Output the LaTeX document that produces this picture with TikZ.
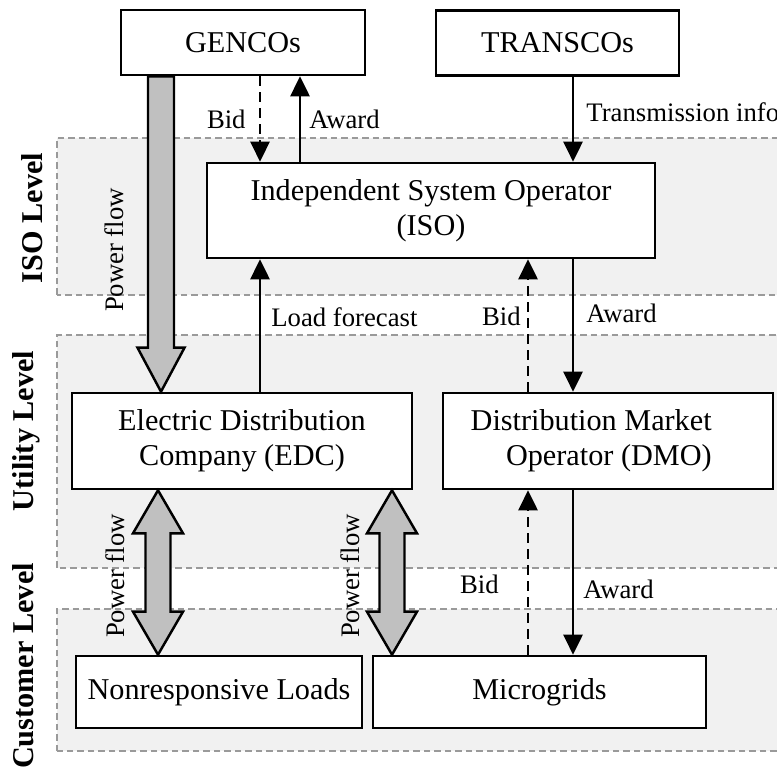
\documentclass[tikz,border=0pt]{standalone}
\usepackage{fontspec}
\setmainfont{Liberation Serif}
\usepackage{tikz}
\usetikzlibrary{arrows.meta,calc,positioning}
\definecolor{mktink}{HTML}{000000}
\definecolor{mktzone}{HTML}{F1F1F1}
\definecolor{mktedge}{HTML}{9A9A9A}
\definecolor{mktflow}{HTML}{C0C0C0}

\begin{document}
\begin{tikzpicture}[>={Triangle[length=0.4cm,width=0.38cm]},line join=miter,
  text=mktink,
  entity/.style={draw=mktink,line width=1.5pt,fill=white,align=center,inner sep=0pt,
    font=\fontsize{17.2}{20}\selectfont},
  zone/.style={fill=mktzone,draw=mktedge,line width=0.6pt,dash pattern=on 0.13cm off 0.08cm},
  msg/.style={->,draw=mktink,line width=1.6pt},
  bidmsg/.style={msg,dash pattern=on 0.2cm off 0.12cm},
  lbl/.style={font=\fontsize{15.2}{17}\selectfont,inner sep=0pt},
  flow/.style={draw=mktink,line width=1.4pt,fill=mktflow},
  level/.style={rotate=90,anchor=base,inner sep=0pt,font=\bfseries\fontsize{17.2}{20}\selectfont}]
\path[use as bounding box] (0,0) rectangle (15.54,15.42);
\fill[white] (0,0) rectangle (15.54,15.42);
\begin{scope}
\clip (0,0) rectangle (15.54,15.42);
% the three levels
\path[zone] (1.14,9.52) rectangle (16,12.66);
\path[zone] (1.14,4.06) rectangle (16,8.72);
\path[zone] (1.14,0.40) rectangle (16,3.24);
\node[level] (isolvl) at (0.84,11.06) {ISO Level};
\node[level] (utillvl) at (0.66,6.80) {Utility Level};
\node[level] (custlvl) at (0.66,2.10) {Customer Level};
% market participants
\node[entity,minimum width=4.88cm,minimum height=1.30cm] (gencos) at (4.86,14.57) {GENCOs};
\node[entity,minimum width=4.86cm,minimum height=1.30cm] (transcos) at (11.15,14.56) {TRANSCOs};
\node[entity,minimum width=8.96cm,minimum height=1.90cm] (iso) at (8.62,11.21) {Independent System Operator\\(ISO)};
\node[entity,minimum width=6.80cm,minimum height=1.92cm] (edc) at (4.84,6.60) {Electric Distribution\\Company (EDC)};
\node[entity,minimum width=6.60cm,minimum height=1.92cm] (dmo) at (12.16,6.60) {};
\node[align=right,anchor=east,inner sep=0pt,font=\fontsize{17.2}{20}\selectfont] (dmotext) at (14.24,6.60) {Distribution Market\\Operator (DMO)};
\node[entity,minimum width=5.72cm,minimum height=1.44cm] (loads) at (4.38,1.58) {Nonresponsive Loads};
\node[entity,minimum width=6.66cm,minimum height=1.44cm] (mgrids) at (10.79,1.58) {Microgrids};
% columns of the connectors
\coordinate (colbid) at (5.20,0);
\coordinate (colaward) at (6.00,0);
\coordinate (coldbid) at (10.56,0);
\coordinate (colmkt) at (11.46,0);
\coordinate (colgen) at (3.22,0);
\coordinate (colload) at (3.16,0);
\coordinate (colmg) at (7.84,0);
% power flow
\coordinate (g1) at (gencos.south -| colgen);
\coordinate (g2) at (edc.north -| colgen);
\draw[flow] ($(g1)+(-0.26,0)$)--($(g2)+(-0.26,0.88)$)--($(g2)+(-0.47,0.88)$)--(g2)--($(g2)+(0.47,0.88)$)--($(g2)+(0.26,0.88)$)--($(g1)+(0.26,0)$)--cycle;
\coordinate (l1) at (edc.south -| colload);
\coordinate (l2) at (loads.north -| colload);
\draw[flow] (l1)--($(l1)+(0.5,-0.86)$)--($(l1)+(0.25,-0.86)$)--($(l2)+(0.25,0.86)$)--($(l2)+(0.5,0.86)$)--(l2)--($(l2)+(-0.5,0.86)$)--($(l2)+(-0.25,0.86)$)--($(l1)+(-0.25,-0.86)$)--($(l1)+(-0.5,-0.86)$)--cycle;
\coordinate (m1) at (edc.south -| colmg);
\coordinate (m2) at (mgrids.north -| colmg);
\draw[flow] (m1)--($(m1)+(0.5,-0.86)$)--($(m1)+(0.25,-0.86)$)--($(m2)+(0.25,0.86)$)--($(m2)+(0.5,0.86)$)--(m2)--($(m2)+(-0.5,0.86)$)--($(m2)+(-0.25,0.86)$)--($(m1)+(-0.25,-0.86)$)--($(m1)+(-0.5,-0.86)$)--cycle;
\node[lbl,rotate=90,anchor=base] (pfgen) at (2.46,10.42) {Power flow};
\node[lbl,rotate=90,anchor=base] (pfload) at (2.48,3.90) {Power flow};
\node[lbl,rotate=90,anchor=base] (pfmg) at (7.18,3.90) {Power flow};
% bids and awards
\draw[bidmsg] (gencos.south -| colbid) -- node[lbl,left=0.26cm] (bidgen) {Bid} (iso.north -| colbid);
\draw[msg] (iso.north -| colaward) -- node[lbl,right=0.16cm] (awdgen) {Award} (gencos.south -| colaward);
\draw[msg] (transcos.south -| colmkt) -- node[lbl,right=0.24cm,pos=0.42] (trinfo) {Transmission info} (iso.north -| colmkt);
\draw[msg] (edc.north -| colbid) -- node[lbl,right=0.2cm,pos=0.56] (fcast) {Load forecast} (iso.south -| colbid);
\draw[bidmsg] (dmo.north -| coldbid) -- node[lbl,left=0.12cm,pos=0.57] (biddmo) {Bid} (iso.south -| coldbid);
\draw[msg] (iso.south -| colmkt) -- node[lbl,right=0.24cm,pos=0.41] (awddmo) {Award} (dmo.north -| colmkt);
\draw[bidmsg] (mgrids.north -| coldbid) -- node[lbl,left=0.56cm,pos=0.43] (bidmg) {Bid} (dmo.south -| coldbid);
\draw[msg] (dmo.south -| colmkt) -- node[lbl,right=0.18cm,pos=0.6] (awdmg) {Award} (mgrids.north -| colmkt);
\end{scope}
\end{tikzpicture}
\end{document}
